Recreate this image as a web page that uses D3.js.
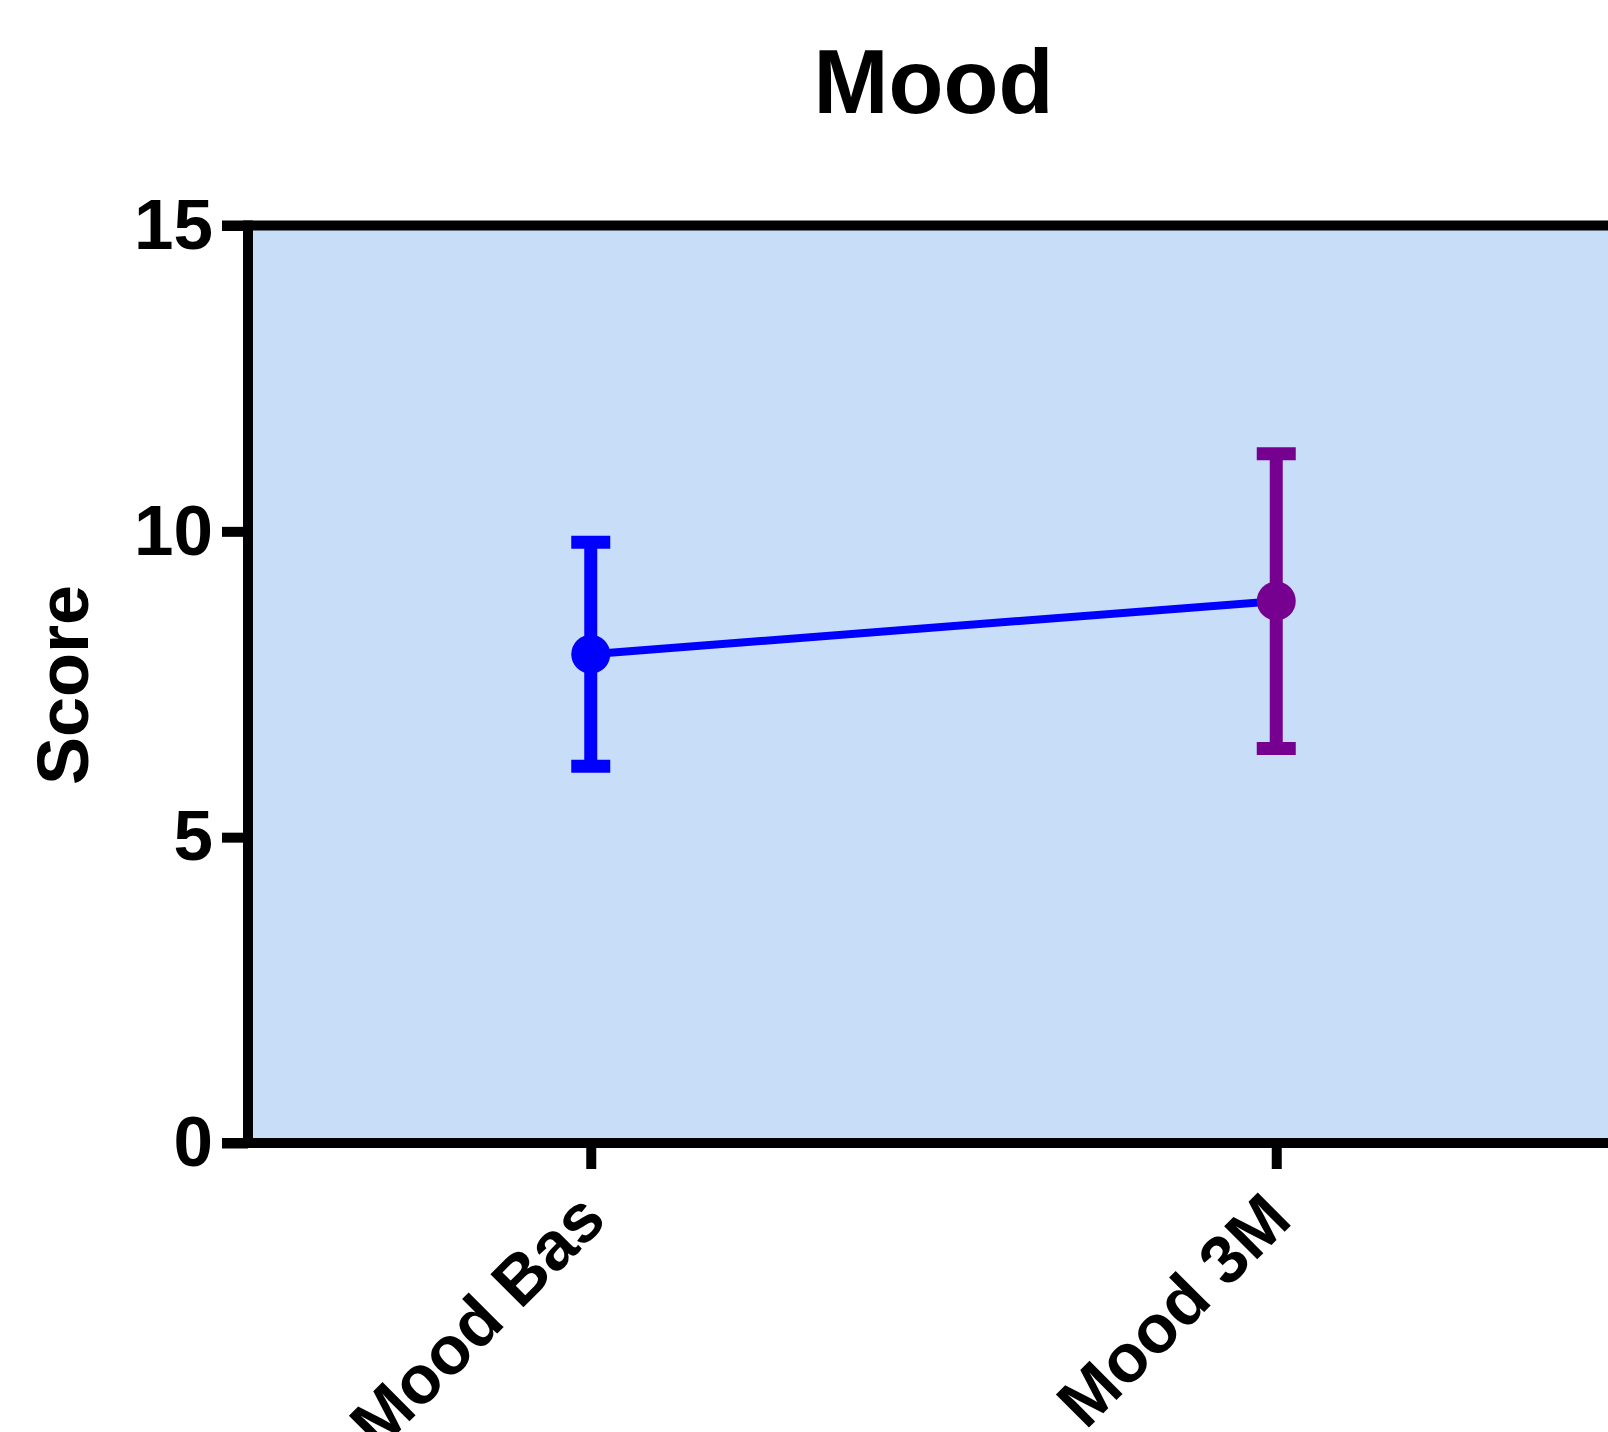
<!DOCTYPE html>
<html>
<head>
<meta charset="utf-8">
<script src="https://cdn.jsdelivr.net/npm/d3@7"></script>
<style>
  html, body { margin: 0; padding: 0; background: #fff; overflow: hidden; }
  svg { display: block; }
  text { font-family: "Liberation Sans", Arial, sans-serif; font-weight: bold; }
</style>
</head>
<body>
<script>
// ---- data ----
const categories = ["Mood Bas", "Mood 3M"];
const means = [7.99, 8.86];
const errors = [1.83, 2.41];
const colors = ["#0000FF", "#76008F"];
const yTicks = [0, 5, 10, 15];
const chartTitle = "Mood";
const yLabel = "Score";

// ---- layout ----
const W = 1608, H = 1432;
const mLeft = 248, mRight = 1619, mTop = 225.5, mBottom = 1143;
const axisW = 10;

const svg = d3.select("body").append("svg").attr("width", W).attr("height", H);

const x = d3.scalePoint().domain(categories).range([mLeft, mRight]).padding(0.5);
const y = d3.scaleLinear().domain([0, 15]).range([mBottom, mTop]);

// plot background
svg.append("rect")
  .attr("x", mLeft).attr("y", y(15))
  .attr("width", mRight - mLeft).attr("height", y(0) - y(15))
  .attr("fill", "#C8DDF7");

// connecting line
const line = d3.line().x((d, i) => x(categories[i])).y(d => y(d));
svg.append("path")
  .datum(means)
  .attr("d", line)
  .attr("fill", "none")
  .attr("stroke", "#0000FF")
  .attr("stroke-width", 8);

// error bars
const eb = svg.append("g").selectAll("g").data(categories).join("g");
eb.append("line")
  .attr("x1", d => x(d)).attr("x2", d => x(d))
  .attr("y1", (d, i) => y(means[i] + errors[i]))
  .attr("y2", (d, i) => y(means[i] - errors[i]))
  .attr("stroke", (d, i) => colors[i]).attr("stroke-width", 13);
[1, -1].forEach(s => {
  eb.append("line")
    .attr("x1", d => x(d) - 19.5).attr("x2", d => x(d) + 19.5)
    .attr("y1", (d, i) => y(means[i] + s * errors[i]))
    .attr("y2", (d, i) => y(means[i] + s * errors[i]))
    .attr("stroke", (d, i) => colors[i]).attr("stroke-width", 13);
});
eb.append("circle")
  .attr("cx", d => x(d)).attr("cy", (d, i) => y(means[i]))
  .attr("r", 19.5)
  .attr("fill", (d, i) => colors[i]);

// frame: top border
svg.append("line")
  .attr("x1", mLeft - 26).attr("x2", mRight)
  .attr("y1", y(15)).attr("y2", y(15))
  .attr("stroke", "#000").attr("stroke-width", axisW);

// y axis
const yAxis = svg.append("g")
  .attr("transform", `translate(${mLeft},0)`)
  .call(d3.axisLeft(y).tickValues(yTicks).tickSize(26).tickSizeOuter(0).tickPadding(9));
yAxis.select(".domain").remove();
yAxis.selectAll(".tick line").attr("stroke", "#000").attr("stroke-width", axisW);
yAxis.selectAll(".tick text")
  .attr("fill", "#000")
  .style("font-size", "71px")
  .style("font-family", "'Liberation Sans', Arial, sans-serif")
  .style("font-weight", "bold");

svg.append("line")
  .attr("x1", mLeft).attr("x2", mLeft)
  .attr("y1", y(15) - axisW / 2).attr("y2", y(0) + axisW / 2)
  .attr("stroke", "#000").attr("stroke-width", axisW);

// x axis
const xAxis = svg.append("g")
  .attr("transform", `translate(0,${mBottom})`)
  .call(d3.axisBottom(x).tickSize(26).tickSizeOuter(0));
xAxis.select(".domain").remove();
xAxis.selectAll(".tick line").attr("stroke", "#000").attr("stroke-width", axisW);
xAxis.selectAll(".tick text")
  .attr("fill", "#000")
  .attr("text-anchor", "end")
  .attr("x", 0).attr("y", 0).attr("dy", "0.36em")
  .attr("transform", "translate(0,62) rotate(-45)")
  .style("font-size", "68px")
  .style("font-family", "'Liberation Sans', Arial, sans-serif")
  .style("font-weight", "bold");

svg.append("line")
  .attr("x1", mLeft - 26).attr("x2", mRight)
  .attr("y1", y(0)).attr("y2", y(0))
  .attr("stroke", "#000").attr("stroke-width", axisW);

// title
svg.append("text")
  .attr("x", (mLeft + mRight) / 2).attr("y", 113)
  .attr("text-anchor", "middle")
  .style("font-size", "90px")
  .text(chartTitle);

// y label
svg.append("text")
  .attr("transform", `translate(88,685) rotate(-90)`)
  .attr("text-anchor", "middle")
  .style("font-size", "72px")
  .text(yLabel);
</script>
</body>
</html>
